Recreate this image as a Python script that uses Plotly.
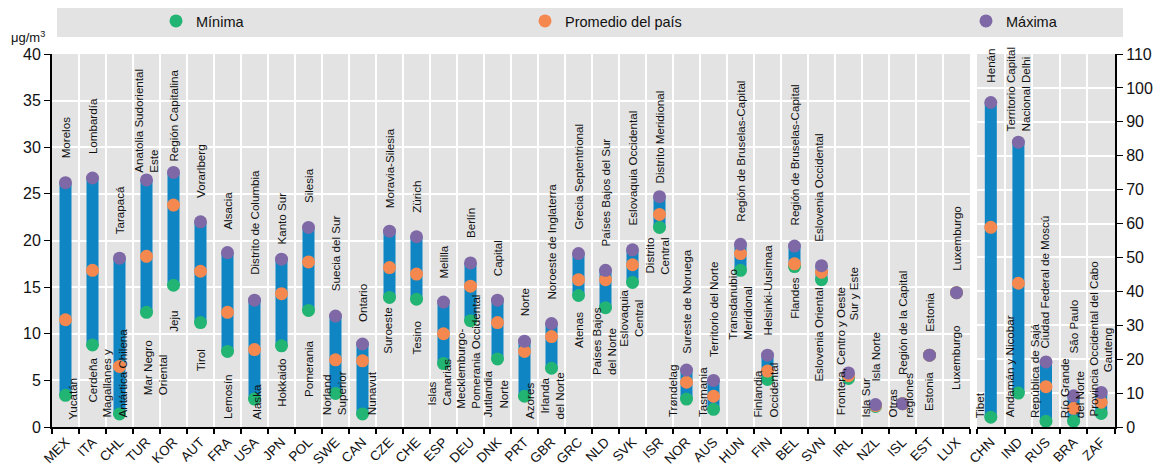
import plotly.graph_objects as go

# ── Data (µg/m3) ──
codes = ["MEX", "ITA", "CHL", "TUR", "KOR", "AUT", "FRA", "USA", "JPN", "POL",
         "SWE", "CAN", "CZE", "CHE", "ESP", "DEU", "DNK", "PRT", "GBR", "GRC",
         "NLD", "SVK", "ISR", "NOR", "AUS", "HUN", "FIN", "BEL", "SVN", "IRL",
         "NZL", "ISL", "EST", "LUX"]
v_min = [3.4, 8.8, 1.4, 12.3, 15.2, 11.2, 8.1, 3.0, 8.7, 12.5,
         3.6, 1.4, 13.9, 13.7, 6.8, 11.4, 7.3, 3.3, 6.3, 14.1,
         12.8, 15.5, 21.4, 3.0, 1.9, 16.8, 5.1, 17.2, 15.8, 5.2,
         2.2, 2.5, 7.7, 14.4]
v_avg = [11.5, 16.8, 6.5, 18.3, 23.8, 16.7, 12.3, 8.3, 14.3, 17.7,
         7.2, 7.1, 17.1, 16.4, 10.0, 15.1, 11.2, 8.1, 9.7, 15.8,
         15.8, 17.4, 22.8, 4.8, 3.3, 18.6, 6.0, 17.5, 16.6, 5.5,
         2.3, 2.5, 7.7, 14.4]
v_max = [26.2, 26.7, 18.1, 26.5, 27.3, 22.0, 18.7, 13.6, 18.0, 21.4,
         11.9, 8.9, 21.0, 20.4, 13.4, 17.6, 13.6, 9.2, 11.1, 18.6,
         16.8, 19.0, 24.7, 6.1, 5.0, 19.6, 7.7, 19.4, 17.3, 5.8,
         2.4, 2.5, 7.7, 14.4]
top_names = ["Morelos", "Lombardía", "Tarapacá", "Anatolia Sudoriental<br>Este",
             "Región Capitalina", "Vorarlberg", "Alsacia", "Distrito de Columbia",
             "Kanto Sur", "Silesia", "Suecia del Sur", "Ontario", "Moravia-Silesia",
             "Zürich", "Melilla", "Berlín", "Capital", "Norte",
             "Noroeste de Inglaterra", "Grecia Septentrional", "Países Bajos del Sur",
             "Eslovaquia Occidental", "Distrito Meridional", "Sureste de Noruega",
             "Territorio del Norte", "Región de Bruselas-Capital", "Helsinki-Uusimaa",
             "Región de Bruselas-Capital", "Eslovenia Occidental", "Sur y Este",
             "Isla Norte", "Región de la Capital", "Estonia", "Luxemburgo"]
bot_names = ["Yucatán", "Cerdeña", "Magallanes y<br>Antártica Chilena",
             "Mar Negro<br>Oriental", "Jeju", "Tirol", "Lemosín", "Alaska",
             "Hokkaido", "Pomerania", "Norland<br>Superior", "Nunavut", "Suroeste",
             "Tesino", "Islas<br>Canarias", "Mecklemburgo-<br>Pomerania Occidental",
             "Jutlandia<br>Norte", "Azores", "Irlanda<br>del Norte", "Atenas",
             "Países Bajos<br>del Norte", "Eslovaquia<br>Central", "Distrito<br>Central",
             "Trøndelag", "Tasmania", "Transdanubio<br>Meridional",
             "Finlandia<br>Occidental", "Flandes", "Eslovenia Oriental",
             "Frontera, Centro y Oeste", "Isla Sur", "Otras<br>regiones", "Estonia",
             "Luxemburgo"]

codes2 = ["CHN", "IND", "RUS", "BRA", "ZAF"]
v2_min = [2.9, 10.0, 1.7, 1.7, 4.0]
v2_avg = [58.9, 42.4, 11.9, 5.5, 7.3]
v2_max = [95.7, 84.0, 19.2, 9.2, 10.2]
top_names2 = ["Henán", "Territorio Capital<br>Nacional Delhi",
              "Ciudad Federal de Moscú", "São Paulo", "Gauteng"]
bot_names2 = ["Tibet", "Andamán y Nicobar", "República de Sajá",
              "Río Grande<br>del Norte", "Provincia Occidental del Cabo"]

# ── label placement (bottom of rotated label, x shift px, align) ──
top_pos = [(28.6, 0, "left"), (29.0, 0, "left"), (20.4, 0, "left"), (27.0, 0, "left"),
           (28.2, 0, "left"), (24.3, 0, "left"), (20.9, 0, "left"), (16.1, 0, "left"),
           (19.3, 0, "left"), (23.8, 0, "left"), (14.3, 0, "left"), (11.0, 0, "left"),
           (23.2, 0, "left"), (22.7, 0, "left"), (15.7, 0, "left"), (20.0, 0, "left"),
           (15.9, 0, "left"), (11.6, 0, "left"), (13.4, 0, "left"), (20.9, 0, "left"),
           (19.1, 0, "left"), (21.4, 0, "left"), (25.9, 0, "left"), (7.6, 0, "left"),
           (7.3, 0, "left"), (21.8, 0, "left"), (9.6, 0, "left"), (21.4, 0, "left"),
           (19.6, -3, "left"), (11.2, 5, "left"), (4.6, 0, "left"), (5.3, 0, "left"),
           (10.0, 0, "left"), (16.5, 0, "left")]
bot_pos = [(0.5, 7, "left"), (2.4, 0, "left"), (0.8, -5, "left"), (3.2, 8, "left"),
           (10.0, 0, "left"), (5.7, 0, "left"), (0.6, 0, "left"), (0.6, 2, "left"),
           (1.9, 0, "left"), (3.0, 0, "left"), (1.0, -2, "left"), (1.0, 9, "left"),
           (7.6, -2, "left"), (7.5, 0, "left"), (2.1, -5, "left"), (1.7, -2, "left"),
           (0.8, -2, "center"), (0.6, 5, "left"), (0.6, 0, "center"), (8.2, 0, "left"),
           (5.3, -2, "left"), (8.4, -1, "center"), (16.1, -2, "right"), (0.8, -14, "left"),
           (0.8, -11, "left"), (9.1, 0, "left"), (0.8, -2, "left"), (11.4, 0, "left"),
           (4.6, -3, "left"), (1.0, -8, "left"), (0.8, -10, "left"), (0.8, -2, "left"),
           (1.5, -1, "left"), (3.7, -1, "left")]
top_pos2 = [(100.9, 0, "left"), (86.7, 0, "left"), (22.4, -1, "left"),
            (21.0, 0, "left"), (15.6, 6, "left")]
bot_pos2 = [(1.9, -11, "left"), (2.4, -9, "left"), (1.9, -12, "left"),
            (1.9, -2, "left"), (2.4, -8, "left")]

BLUE, GREEN, ORANGE, PURPLE = "#0f85c3", "#22b473", "#f5884f", "#7e68a5"
BG = "#e3e3e3"
FONT = "Liberation Sans, Arial, sans-serif"

# page body has an 8px margin -> figure is sized to what is visible
OFF = 8
WIN_W, WIN_H = 1162, 467
W, H = WIN_W - OFF, WIN_H - OFF


def fx(px):
    return (px - OFF) / W


def fy(py):
    return 1 - (py - OFF) / H


fig = go.Figure()


def add_panel(xs, mn, av, mx, xa, ya, first):
    bx, by = [], []
    for i in range(len(xs)):
        bx += [i, i, None]
        by += [mn[i], mx[i], None]
    fig.add_trace(go.Scatter(x=bx, y=by, mode="lines", xaxis=xa, yaxis=ya,
                             line=dict(color=BLUE, width=12), showlegend=False,
                             hoverinfo="skip"))
    for vals, name, color, lg in [(mn, "Mínima", GREEN, "legend"),
                                  (av, "Promedio del país", ORANGE, "legend2"),
                                  (mx, "Máxima", PURPLE, "legend3")]:
        fig.add_trace(go.Scatter(x=list(range(len(xs))), y=vals, mode="markers",
                                 name=name, xaxis=xa, yaxis=ya, legend=lg,
                                 marker=dict(color=color, size=13),
                                 showlegend=first, legendgroup=name))


add_panel(codes, v_min, v_avg, v_max, "x", "y", True)
add_panel(codes2, v2_min, v2_avg, v2_max, "x2", "y2", False)

annotations = []


def add_labels(names, pos, xr, yr):
    for i, (txt, (yb, dx, al)) in enumerate(zip(names, pos)):
        annotations.append(dict(
            x=i, y=yb, xref=xr, yref=yr, text=txt, showarrow=False,
            textangle=-90, xanchor="center", yanchor="bottom", xshift=dx,
            align=al, font=dict(size=11.6, color="#111", family=FONT)))


add_labels(top_names, top_pos, "x", "y")
add_labels(bot_names, bot_pos, "x", "y")
add_labels(top_names2, top_pos2, "x2", "y2")
add_labels(bot_names2, bot_pos2, "x2", "y2")

annotations.append(dict(x=fx(9), y=fy(37), xref="paper", yref="paper",
                        xanchor="left", yanchor="middle", text="μg/m<sup>3</sup>",
                        showarrow=False,
                        font=dict(size=13, color="#111", family=FONT)))

y_dom = [fy(427), fy(54)]
axis_common = dict(showline=True, linecolor="black", linewidth=2, automargin=False)
minor_sep = dict(tick0=0.5, dtick=1, showgrid=True, gridcolor="white",
                 gridwidth=2, ticks="outside", ticklen=5,
                 tickcolor="black", tickwidth=1.5)
leg_common = dict(y=fy(21), xanchor="left", yanchor="middle",
                  bgcolor="rgba(0,0,0,0)", font=dict(size=14.5, family=FONT))
xfont = dict(size=13.5, color="#111", family=FONT)
yfont = dict(size=16, color="#111", family=FONT)

fig.update_layout(
    width=W, height=H,
    margin=dict(l=0, r=0, t=0, b=0, autoexpand=False),
    paper_bgcolor="white", plot_bgcolor=BG,
    font=dict(family=FONT, color="#111"),
    xaxis=dict(domain=[fx(52), fx(970)], range=[-0.5, len(codes) - 0.5],
               tickvals=list(range(len(codes))), ticktext=codes, tickangle=-45,
               showgrid=False, ticks="", zeroline=False, minor=minor_sep,
               tickfont=xfont, **axis_common),
    yaxis=dict(domain=y_dom, range=[0, 40], dtick=5, ticks="outside", ticklen=6,
               tickcolor="black", showgrid=True, gridcolor="white", gridwidth=2,
               zeroline=False, tickfont=yfont, **axis_common),
    xaxis2=dict(domain=[fx(977), fx(1115)], anchor="y2", range=[-0.5, len(codes2) - 0.5],
                tickvals=list(range(len(codes2))), ticktext=codes2, tickangle=-45,
                showgrid=False, ticks="", zeroline=False, minor=minor_sep,
                tickfont=xfont, **axis_common),
    yaxis2=dict(domain=y_dom, anchor="x2", side="right", range=[0, 110], dtick=10,
                ticks="outside", ticklen=6, tickcolor="black", showgrid=True,
                gridcolor="white", gridwidth=2, zeroline=False, tickfont=yfont,
                **axis_common),
    shapes=[dict(type="rect", xref="paper", yref="paper", layer="below",
                 x0=fx(57), x1=fx(1123), y0=fy(37), y1=fy(4),
                 fillcolor=BG, line=dict(width=0))],
    legend=dict(x=fx(156), **leg_common),
    legend2=dict(x=fx(525), **leg_common),
    legend3=dict(x=fx(966), **leg_common),
    annotations=annotations,
)

fig.write_html("out.html")
